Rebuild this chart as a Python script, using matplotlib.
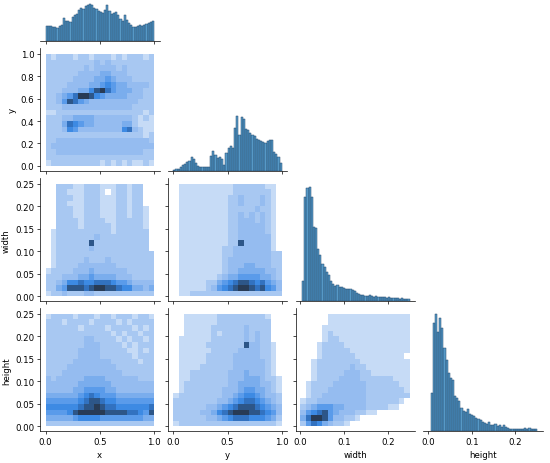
import matplotlib
matplotlib.use("Agg")
import matplotlib.pyplot as plt
import numpy as np
from matplotlib.colors import ListedColormap

names = ["x", "y", "width", "height"]

# diagonal histograms, 50 bins each (counts, arbitrary units)
hist_x = [45, 47, 47, 44, 42, 40, 45, 48, 70, 62, 60, 58, 72, 78, 82, 95, 100, 98, 105, 108,
          113, 110, 100, 98, 92, 88, 85, 95, 108, 90, 82, 85, 88, 78, 68, 62, 80, 65, 55, 48,
          42, 44, 45, 48, 46, 50, 52, 55, 58, 60]
hist_y = [5, 6, 8, 13, 18, 23, 28, 32, 42, 36, 26, 16, 12, 13, 13, 13, 14, 45, 62, 48,
          40, 42, 38, 20, 55, 70, 76, 70, 130, 165, 110, 162, 158, 128, 124, 116, 110, 106, 98, 95,
          92, 88, 86, 90, 95, 94, 58, 52, 42, 24]
hist_w = [60, 313, 340, 343, 313, 223, 220, 158, 140, 113, 103, 88, 78, 60, 53, 46, 48, 43, 43, 41,
          38, 38, 36, 33, 30, 26, 23, 20, 18, 16, 16, 18, 15, 13, 15, 13, 12, 14, 12, 10,
          12, 10, 9, 11, 9, 8, 10, 8, 7, 6]
hist_h = [115, 325, 352, 300, 342, 310, 250, 215, 175, 160, 155, 105, 100, 90, 70, 62, 58, 68, 52, 48,
          45, 40, 38, 33, 28, 25, 22, 28, 20, 18, 22, 16, 20, 14, 18, 12, 10, 8, 8, 8,
          7, 7, 8, 8, 9, 8, 10, 8, 7, 6]
hist_range = {"x": (0.0, 1.0), "y": (0.0, 1.0), "width": (0.004, 0.25), "height": (0.006, 0.249)}
grid_range = {"x": (0.0, 1.0), "y": (0.0, 1.0), "width": (0.0, 0.25), "height": (0.0, 0.25)}

# 2-D histogram density levels, rows from top to bottom
# 0 = empty, 1 = sparse speckled cells, 2 = lightest solid ... 9 = densest
grid_y_x = [
    "21222122122212122212", "22222222232322222222", "22222223233332322222", "22222233334433322222",
    "22222333344543332222", "22223333445654433332", "22233344689754443322", "22345799865444433322",
    "22358754333333333222", "22233333333333332222", "11222222222222222212", "22233444433333332121",
    "22247654433333442111", "22236533333333673211", "22222222222222222212", "22333333333333333332",
    "23333333333333333333", "22333333333333333322", "22222222222222222222", "12222222221212121121",
]
grid_w_x = [
    "00222112221112212200", "00221112221012212200", "00222112221112212200", "00221112221112212200",
    "00222112221112212210", "00222112221112212210", "00222212222112222210", "00222212222212222210",
    "01222222222212222220", "01222222232222222220", "01222222822222222220", "01222222322222222220",
    "01222222222222222222", "01222223222322222222", "01222233333332222222", "12222333433333322222",
    "22233344544443332222", "22346676677765543333", "22458887899887664434", "12232223322222222222",
]
grid_w_y = [
    "01111111111222222110", "01111111111222222210", "01111111112232223210", "01111111112232223210",
    "01111111112222232210", "01111111112232323210", "01111111112233323210", "01111111112233333210",
    "01111111112233333210", "01111111112233333310", "01111111112283333310", "01111111122333333310",
    "01111111122333333322", "01111111123333333322", "01111111123334433322", "01111111123344444332",
    "01111111234455554432", "01111122456788767543", "01111123567899878653", "01122222222222222222",
]
grid_h_x = [
    "12222122212212221221", "22212222122221212222", "22222212222122221212", "22222222222212122122",
    "22222223322221212212", "22222223332222121222", "22222233332222211212", "22222233332222221222",
    "22222333333322222122", "22223333333332222222", "22233333333333222222", "32333334444333333222",
    "33333344444433333333", "33333445555443333333", "44444456765554444444", "55555567887665555555",
    "66666678898776666667", "55556899999888877658", "44444566665555555544", "22222222222222222222",
]
grid_h_y = [
    "00111111222222222100", "00111111222222222200", "00111112222223222200", "00111112122223232200",
    "01111112222223232200", "01111122222228332210", "01111112222233332210", "01111122222333332210",
    "01111122222333333210", "01111222222333333210", "01122222223334333210", "01122222223334443221",
    "01222222223344443321", "01222222233345544321", "12222222233456654332", "22222222334567765432",
    "22222233456788876543", "22222334678999887653", "22222233456777666542", "12222222222222222221",
]
grid_h_w = [
    "00000111111111111111", "00000111111111111111", "00001111111111111111", "00001211111111111111",
    "00001221111111111111", "00012222111111111111", "00012222211111111111", "00012222221111111110",
    "00122222222111111111", "00122222232211111111", "00122222333221111111", "00122223333222222111",
    "01222233333322222211", "01222333333322222221", "01223333333322222222", "12233333333322222210",
    "23455544333322221100", "35678543332211000000", "47998533221000000000", "25764322100000000000",
]

diag_counts = {"x": hist_x, "y": hist_y, "width": hist_w, "height": hist_h}
grids = {(1, 0): grid_y_x, (2, 0): grid_w_x, (2, 1): grid_w_y,
         (3, 0): grid_h_x, (3, 1): grid_h_y, (3, 2): grid_h_w}

lims = {"x": (-0.05, 1.05), "y": (-0.05, 1.05), "width": (-0.011, 0.262), "height": (-0.011, 0.262)}
ticks_xy = [0.0, 0.5, 1.0]
ticks_xy_left = [0.0, 0.2, 0.4, 0.6, 0.8, 1.0]
ticks_wh_x = [0.0, 0.1, 0.2]
ticks_wh_y = [0.0, 0.05, 0.10, 0.15, 0.20, 0.25]

level_colors = ["#c6dbf6", "#a8c8f2", "#95bcf0", "#7aaded", "#5a9bea",
                "#3d8ae3", "#3272c0", "#2d5688", "#283b55"]
cmap = ListedColormap(level_colors)

plt.rcParams.update({
    "font.size": 6.2,
    "axes.linewidth": 0.5,
    "xtick.major.width": 0.5,
    "ytick.major.width": 0.5,
    "xtick.major.size": 2.2,
    "ytick.major.size": 2.2,
    "xtick.major.pad": 2.0,
    "ytick.major.pad": 2.0,
    "axes.labelpad": 3.0,
})

fig = plt.figure(figsize=(5.5, 4.64), dpi=100)
FW, FH = 550.0, 464.0


def add_panel(row, col):
    # the top row of the grid is partly cut off by the top edge of the picture
    left = 40.1 + 127.7 * col
    top = -80.6 + 130.0 * row
    return fig.add_axes([left / FW, 1 - (top + 123.0) / FH, 119.4 / FW, 123.0 / FH])


diag_top = max(max(c) for c in diag_counts.values()) * 1.05

for row in range(4):
    for col in range(row + 1):
        ax = add_panel(row, col)
        xname, yname = names[col], names[row]
        for side in ("top", "right"):
            ax.spines[side].set_visible(False)

        if row == col:
            counts = np.array(diag_counts[xname], dtype=float)
            lo, hi = hist_range[xname]
            edges = np.linspace(lo, hi, len(counts) + 1)
            ax.bar(edges[:-1], counts, width=np.diff(edges), align="edge",
                   color=(0.122, 0.467, 0.706, 0.75), edgecolor="#24486b", linewidth=0.35)
            ax.set_ylim(0, diag_top)
            ax.spines["left"].set_visible(False)
            ax.set_yticks([])
        else:
            grid = np.array([[int(ch) for ch in line] for line in grids[(row, col)][::-1]], dtype=float)
            gx0, gx1 = grid_range[xname]
            gy0, gy1 = grid_range[yname]
            xe = np.linspace(gx0, gx1, grid.shape[1] + 1)
            ye = np.linspace(gy0, gy1, grid.shape[0] + 1)
            ax.pcolormesh(xe, ye, np.ma.masked_equal(grid, 0), cmap=cmap, vmin=0.5, vmax=9.5)
            ax.set_ylim(*lims[yname])
            ax.set_yticks(ticks_wh_y if yname in ("width", "height") else ticks_xy_left)

        ax.set_xlim(*lims[xname])
        ax.set_xticks(ticks_xy if xname in ("x", "y") else ticks_wh_x)

        if row == 3:
            ax.set_xlabel(xname)
        else:
            ax.tick_params(labelbottom=False)
        if col == 0 and row > 0:
            ax.set_ylabel(yname)
        elif row != col:
            ax.tick_params(labelleft=False)

fig.savefig("out.png", dpi=100)
